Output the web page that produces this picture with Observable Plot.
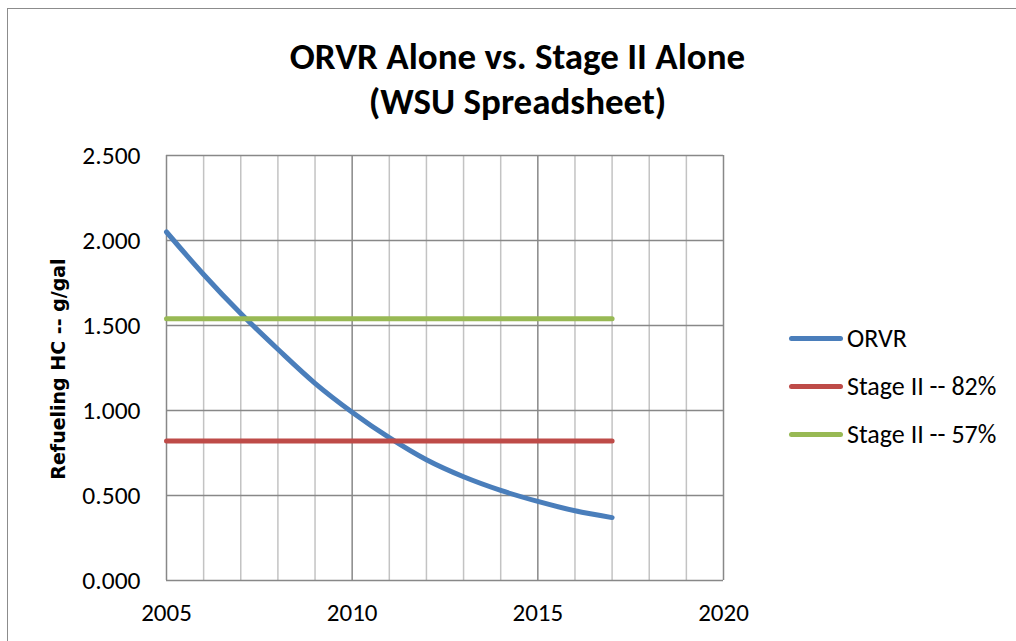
<!DOCTYPE html>
<html><head><meta charset="utf-8">
<script src="https://cdn.jsdelivr.net/npm/d3@7"></script>
<script src="https://cdn.jsdelivr.net/npm/@observablehq/plot@0.6"></script>
<style>
body{margin:0;background:#fff;}
#wrap{position:relative;width:1016px;height:641px;overflow:hidden;font-family:Carlito,Calibri,Lato,sans-serif;color:#000;}
#border{position:absolute;left:7px;top:8px;width:1100px;height:700px;border:1.5px solid #8c8c8c;box-sizing:border-box;}
#chart{position:absolute;left:0;top:0;}
#title{position:absolute;left:0;top:34px;width:1035px;text-align:center;font-weight:bold;font-size:37px;line-height:45px;}
#ylab{position:absolute;left:58px;top:369px;transform:translate(-50%,-50%) rotate(-90deg);white-space:nowrap;font-weight:bold;font-size:19px;font-family:"DejaVu Sans",Verdana,sans-serif;}
#legend{position:absolute;left:789px;top:314px;font-size:26px;}
.item{display:flex;align-items:center;height:48px;}
.sw{width:54px;height:5px;border-radius:3px;margin-right:4px;}
</style>
</head><body>
<div id="wrap">
  <div id="border"></div>
  <div id="chart"></div>
  <div id="title">ORVR Alone vs. Stage II Alone<br>(WSU Spreadsheet)</div>
  <div id="ylab">Refueling HC -- g/gal</div>
  <div id="legend"></div>
</div>
<script>
const years = [2005, 2006, 2007, 2008, 2009, 2010, 2011, 2012, 2013, 2014, 2015, 2016, 2017];
const orvr = [2.05, 1.80, 1.57, 1.36, 1.16, 0.99, 0.84, 0.71, 0.61, 0.53, 0.465, 0.41, 0.37];
const stage82 = [0.82, 0.82, 0.82, 0.82, 0.82, 0.82, 0.82, 0.82, 0.82, 0.82, 0.82, 0.82, 0.82];
const stage57 = [1.54, 1.54, 1.54, 1.54, 1.54, 1.54, 1.54, 1.54, 1.54, 1.54, 1.54, 1.54, 1.54];
const seriesNames = ["ORVR", "Stage II -- 82%", "Stage II -- 57%"];
const seriesColors = ["#4A7EBB", "#BE4B48", "#98B954"];
const xTicks = [2005, 2010, 2015, 2020];
const yTicks = [0, 0.5, 1.0, 1.5, 2.0, 2.5];
const gridYears = [2005, 2006, 2007, 2008, 2009, 2010, 2011, 2012, 2013, 2014, 2015, 2016, 2017, 2018, 2019, 2020];

const seriesValues = [orvr, stage82, stage57];
const data = seriesValues.flatMap((vals, i) => years.map((y, j) => ({year: y, value: vals[j], series: seriesNames[i]})));

const font = "Carlito, Calibri, Lato, sans-serif";
const plot = Plot.plot({
  width: 1016,
  height: 641,
  marginLeft: 166,
  marginRight: 293,
  marginTop: 155,
  marginBottom: 61,
  style: {fontFamily: font, fontSize: "25px", background: "transparent", overflow: "visible"},
  x: {domain: [2005, 2020]},
  y: {domain: [0, 2.5]},
  color: {domain: seriesNames, range: seriesColors},
  marks: [
    Plot.ruleX(gridYears.filter(d => d % 5 !== 0), {x: d => d, stroke: "#c3c3c3", strokeWidth: 1.5}),
    Plot.ruleX(gridYears.filter(d => d % 5 === 0), {x: d => d, stroke: "#888888", strokeWidth: 1.5}),
    Plot.ruleY(yTicks, {y: d => d, stroke: "#888888", strokeWidth: 1.5}),
    Plot.axisX({ticks: xTicks, tickFormat: d => String(d), tickSize: 0, tickPadding: 23, fontSize: 25, label: null}),
    Plot.axisY({ticks: yTicks, tickFormat: d => d.toFixed(3), tickSize: 0, tickPadding: 26, fontSize: 25.5, label: null}),
    Plot.line(data, {x: "year", y: "value", z: "series", stroke: "series", strokeWidth: 5, curve: "catmull-rom", strokeLinecap: "round", strokeLinejoin: "round"})
  ]
});
document.getElementById("chart").appendChild(plot);

const legend = document.getElementById("legend");
seriesNames.forEach((n, i) => {
  const it = document.createElement("div");
  it.className = "item";
  it.innerHTML = `<div class="sw" style="background:${seriesColors[i]}"></div><span>${n}</span>`;
  legend.appendChild(it);
});
</script>
</body></html>
